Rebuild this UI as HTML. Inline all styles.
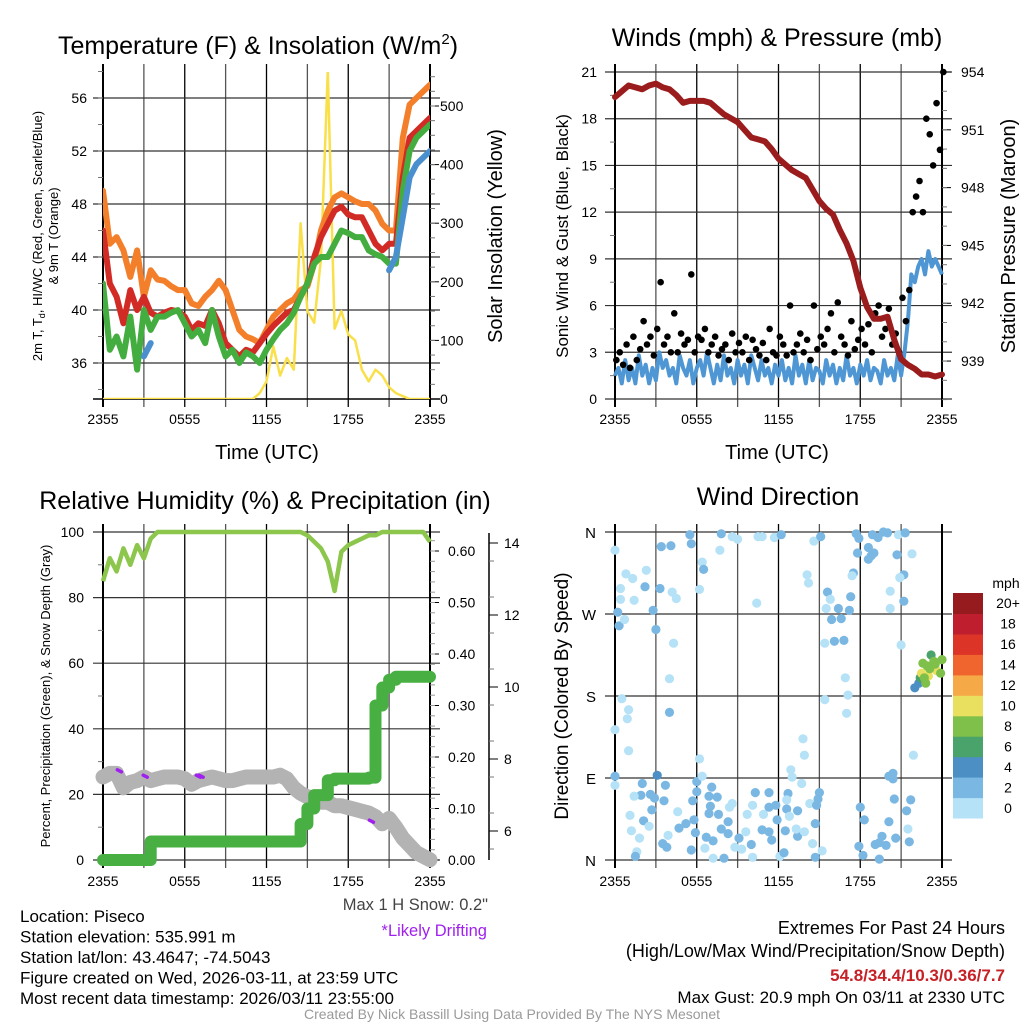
<!DOCTYPE html>
<html><head><meta charset="utf-8"><style>
html,body{margin:0;padding:0;background:#fff;}
svg{display:block;font-family:"Liberation Sans",sans-serif;}
</style></head><body>
<svg id="fig" width="1024" height="1024" viewBox="0 0 1024 1024" xmlns="http://www.w3.org/2000/svg">
<rect width="1024" height="1024" fill="#fff"/>
</svg>
<script>
// ---------- DATA (half-hour steps, 0..24 h from 2355 UTC) ----------
const timeTicks = ["2355","0555","1155","1755","2355"];
const temp9m = [49,45,45.5,44.5,42.5,44.5,41,43,42.3,42.2,41.8,41.5,41.5,40.5,40.3,41,41.5,42.2,41.5,40,38.5,38,37.8,37.5,38.5,39.5,40,40.5,40.8,41.5,41.8,43.5,46,47.5,48.5,48.8,48.5,48.2,48,48,47.5,46.5,46,46,53,55.5,56,56.5,57];
const temp2m = [46,42,41,39,41.5,40,41,39.8,39.5,39.8,40,39.9,39.5,38.5,39,38.8,40,39,37.5,37,36.5,37,36.8,37.5,38.2,38.8,39.3,39.8,40,41,42,44,45.5,46.5,47.5,47.8,47.2,47,47,46,45,44.5,45,45,50,53,53.5,54,54.5];
const dewpt = [42,37,38,36.5,39.5,35.5,40,38.5,39.5,39.5,39.8,40,39,38,38.5,37.5,40,38,36.5,37,36,36.8,36.5,36,37,37.8,38.5,39,39.8,41,42,43.5,44,44,45,46,45.8,45.5,45.5,44.5,44.2,44,43.5,43.5,49,52,53,53.5,54];
const windChill = [null,null,null,null,null,null,36.5,37.5,null,null,null,null,null,null,null,null,null,null,null,null,null,null,null,null,null,null,null,null,null,40,null,null,null,null,null,null,null,null,null,null,null,null,43,44,47,50,51,51.5,52];
const solar = [0,0,0,0,0,0,0,0,0,0,0,0,0,0,0,0,0,0,0,0,0,0,0,10,30,90,40,70,50,300,150,130,240,560,120,150,110,100,50,30,50,40,20,10,5,0,0,0,0];
const tempTicks = [36,40,44,48,52,56];
const solarTicks = [0,100,200,300,400,500];

const windSpeed = [1.5,2,1,2.5,1.2,2,1,2.8,1.5,2.2,1,2,1.2,3,2,2.5,1.5,2,1,2.8,2,1.5,2.5,1,2,2.5,1.5,3,2,1,2.2,1.2,2.8,1.5,2,1,2.5,1.5,2.2,1,2.8,2,1.2,2.5,1.5,2,1,2.2,1.5,2.5,1.2,2,1,2.8,1.5,2.2,1,2.5,1.2,2,1.8,1,2.5,1.5,2.2,1,2,1.2,2.8,1.5,2,1,2.2,1.5,2.5,1.2,2,1.8,1,2.5,1.5,2,1.2,2.8,1.5,3,5,8,7.5,8.5,9,8,9.5,8.5,9,8.5,8];
const windGust = [2.5,3,2.2,3.5,2,4,2.5,3.2,5,3.5,4,2.8,4.5,7.5,3.5,4,3,5.5,3,4.2,3.5,3.8,8,3,4,3.8,4.5,3,3.5,4,2.8,3.2,3.5,2.5,4.2,3,3.6,3,4,2.5,3.8,3.2,2.8,3.6,2.5,4.5,3,2.8,4,3.5,2.8,6,3,3.5,4.2,3,3.8,2.5,6,3.2,4,3.5,4.5,5.5,3,6.2,4,3.5,2.8,5,3.2,3.8,4.5,3.5,4.8,3,5.5,6,4,4.5,5.8,3.5,4.2,3,6.5,5,7,12,13,14,12,18,17,15,19,16,21];
const pressure = [952.7,953.0,953.3,953.2,953.1,953.3,953.4,953.2,953.1,952.8,952.4,952.5,952.5,952.5,952.4,952.1,951.8,951.6,951.4,951.0,950.6,950.5,950.4,950.0,949.5,949.2,948.9,948.7,948.5,947.9,947.3,946.9,946.6,945.8,945.1,944.2,942.8,941.8,941.2,941.2,941.3,940.1,939.1,938.8,938.6,938.3,938.3,938.2,938.3];
const windTicks = [0,3,6,9,12,15,18,21];
const pressTicks = [939,942,945,948,951,954];

const rh = [85,92,88,95,90,96,92,98,100,100,100,100,100,100,100,100,100,100,100,100,100,100,100,100,100,100,100,100,100,100,99,97,95,91,82,94,96,97,98,99,99,100,100,100,100,100,100,100,97];
const precip = [0,0,0,0,0,0,0,0.036,0.036,0.036,0.036,0.036,0.036,0.036,0.036,0.036,0.036,0.036,0.036,0.036,0.036,0.036,0.036,0.036,0.036,0.036,0.036,0.036,0.036,0.07,0.1,0.126,0.126,0.155,0.158,0.158,0.158,0.158,0.158,0.16,0.3,0.335,0.35,0.356,0.356,0.356,0.356,0.356,0.356];
const snowDepth = [7.5,7.6,7.6,7.2,7.35,7.4,7.5,7.4,7.45,7.5,7.5,7.5,7.45,7.3,7.4,7.45,7.5,7.45,7.4,7.4,7.45,7.5,7.5,7.5,7.5,7.5,7.55,7.45,7.2,7.05,6.95,6.9,6.8,6.8,6.7,6.7,6.65,6.6,6.55,6.5,6.4,6.2,6.35,6.1,5.8,5.6,5.4,5.3,5.2];
const driftHours = [1.2,3.1,7.0,7.2,19.7];
const driftDepth = [7.7,7.55,7.55,7.55,6.3];
const rhTicks = [0,20,40,60,80,100];
const precipTicks = [0,0.1,0.2,0.3,0.4,0.5,0.6];
const snowTicks = [6,8,10,12,14];

const dirHours = [5.5,5.6,7.8,8.6,9,10.5,10.8,11.7,12.2,14.6,15.1,17.7,17.9,18.9,19.3,19.7,20,20.8,21.3,3.4,4.1,0,7.7,17.8,18.6,20.7,21.8,6.4,6.5,0.8,2.3,1.3,2.2,3.3,0.4,4.2,4.5,0.4,1.4,6.2,10.4,2.8,0.2,18.6,18.8,19,17.5,17.4,14.1,14.2,15.6,15.8,17.3,20.2,21.2,20.9,21.2,20.2,15.5,16.4,17.2,0.3,0.7,3,15.9,16.6,16.1,16.8,15.4,4.3,21,4,16.9,17.1,15.4,0.5,17,4,1,0.9,0,1,13.8,13.9,21.9,
0,0,3.1,2,1.9,1.4,2.6,2.9,2.7,3.6,3.7,1.1,2.1,2.5,1.2,1.8,1.6,1.5,3.5,3.8,3.9,4.6,4.7,5.2,5.8,5.9,5.6,6,6,5.7,6.4,6.2,6.9,7,7.5,7.1,6.9,7.6,6.7,7.2,6.6,7.2,8,7.8,8.3,8.3,8.6,8.4,9.1,8.8,9.3,9.6,9.7,10,10.3,10.1,10.1,10.8,10.9,11.3,11.3,11.3,11.5,11.8,11.9,12.1,12.4,12.6,12.7,12.6,12.5,12.8,12.9,13,13.4,13.4,13.3,13.9,13.7,14.3,14.5,14.7,15.2,14.7,14.8,15,14.9,18,18.3,17.9,18.2,19.1,19.4,19.4,19.6,19.9,20.1,20.4,20.4,20.5,20.1,20.6,21.4,21.7,21.5,21.6,
22,22.3,22.4,22.5,22.6,22.9,23,23.2,23.4,23.6,23.9,24,22.8,23.5,23.1,22.7];
const dirDegrees = [357,347,358,355,352,355,355,354,357,350,355,358,353,357,354,360,359,357,359,344,345,340,340,337,343,335,336,327,319,314,318,309,300,298,298,294,287,286,285,297,282,274,272,330,334,337,315,312,313,304,294,286,289,295,313,310,284,276,276,276,274,257,264,253,264,265,240,241,238,238,236,199,200,181,176,177,161,162,165,155,143,120,133,115,115,
92,82,93,84,71,70,72,68,55,65,82,49,43,37,32,24,9,4,18,14,27,53,35,40,44,30,11,86,75,65,92,111,70,59,69,80,51,50,25,21,13,2,2,34,29,42,62,58,24,14,12,31,50,17,74,60,3,33,50,74,58,31,22,60,44,4,8,56,73,66,32,48,99,91,54,26,34,31,84,62,18,3,10,40,60,74,67,58,44,15,5,17,1,19,26,16,92,89,95,67,42,24,54,66,34,20,
189,194,200,205,216,213,202,225,218,208,205,220,194,215,210,200];
const dirSpeeds = [3,3,3,1,1,1,1,1,3,1,3,3,3,3,3,3,3,1,3,3,3,1,1,3,3,3,1,1,3,1,1,1,3,3,1,1,1,1,1,1,1,3,3,3,3,3,3,1,1,1,3,1,3,1,3,1,3,1,1,3,3,3,1,3,3,3,3,3,1,1,1,1,1,1,1,1,1,3,1,1,1,1,1,1,1,
3,1,5,3,3,1,3,3,3,3,3,1,3,1,1,1,1,3,3,3,1,1,3,3,3,3,3,3,3,3,1,1,3,3,3,3,3,3,3,3,1,1,3,3,3,3,1,1,3,1,1,1,1,3,3,1,1,3,1,3,3,3,3,3,3,1,3,3,3,1,3,1,1,1,3,3,1,1,1,1,1,3,1,3,3,3,3,3,3,3,3,3,3,3,3,3,3,3,3,3,3,3,3,3,1,3,
4,5,7,10,8,8,10,6,8,10,8,8,8,8,9,9];
const dirLabels = ["N","E","S","W","N"];
const speedBinLabels = ["0","2","4","6","8","10","12","14","16","18","20+"];
const speedBinColors = ["#b5e2f7","#7ab8e3","#4b8fc4","#4aa36b","#7fc04a","#e8e05e","#f6a947","#f0642d","#dc3528","#be1e2d","#951b1e"];

// ---------- HELPERS ----------
const NS = "http://www.w3.org/2000/svg";
const svg = document.getElementById("fig");
function mk(tag, attrs, parent){
  const e = document.createElementNS(NS, tag);
  for (const k in attrs) e.setAttribute(k, attrs[k]);
  (parent || svg).appendChild(e);
  return e;
}
function txt(s, x, y, size, anchor, parent, extra){
  const t = mk("text", Object.assign({x:x, y:y, "font-size":size, "text-anchor":anchor||"middle", fill:"#000"}, extra||{}), parent);
  t.textContent = s;
  return t;
}
function group(name){
  const g = mk("g", {});
  
  
  return g;
}
function linePath(vals, xf, yf){
  let d = "", pen = false;
  vals.forEach((v,i)=>{
    if (v === null) { pen = false; return; }
    d += (pen ? "L" : "M") + xf(i*0.5).toFixed(1) + " " + yf(v).toFixed(1);
    pen = true;
  });
  return d;
}
function frame(g, x0, x1, y0, y1, hLines, xTickY){
  for (let k=1;k<8;k++){
    const x = x0 + (x1-x0)*k/8;
    mk("line",{x1:x,x2:x,y1:y0-8,y2:y1+8,stroke:k%2?"#555":"#000","stroke-width":1.3},g);
  }
  hLines.forEach(y=>mk("line",{x1:x0-10,x2:x1+10,y1:y,y2:y,stroke:"#333","stroke-width":1.2},g));
  mk("line",{x1:x0,x2:x0,y1:y0-8,y2:y1+8,stroke:"#000","stroke-width":2},g);
  mk("line",{x1:x1,x2:x1,y1:y0-8,y2:y1+8,stroke:"#000","stroke-width":2},g);
  timeTicks.forEach((s,i)=>{
    const t = txt(s, x0 + (x1-x0)*i/4, xTickY, 14, "middle", g);
    
    
  });
}

// ================= PANEL 1: Temperature =================
(function(){
  const x0=103,x1=430,y0=72,y1=399;
  const X = h => x0 + h*(x1-x0)/24;
  const YT = t => 98 + (56-t)*13.25;
  const YS = s => 399 - s*0.586;
  const g = group("temperature-panel");
  const tl = txt("Temperature (F) & Insolation (W/m", 258, 54, 25, "middle", g);
  const sup = mk("tspan",{"font-size":15,dy:-10},tl); sup.textContent="2";
  const cl = mk("tspan",{dy:10},tl); cl.textContent=")";
  
  
  frame(g,x0,x1,y0,y1,tempTicks.map(YT),424);
  mk("line",{x1:x0-10,x2:x1+10,y1:y1,y2:y1,stroke:"#000","stroke-width":1.5},g);
  for (let t=34;t<=58;t+=2) mk("line",{x1:x0-5,x2:x0,y1:YT(t),y2:YT(t),stroke:"#777"},g);
  tempTicks.forEach(t=>txt(String(t), 87, YT(t)+5, 14, "end", g));
  solarTicks.forEach(s=>{ mk("line",{x1:x1,x2:x1+9,y1:YS(s),y2:YS(s),stroke:"#000"},g); txt(String(s), 440, YS(s)+5, 14, "start", g); });
  for (let s=25;s<560;s+=25) mk("line",{x1:x1,x2:x1+5,y1:YS(s),y2:YS(s),stroke:"#777"},g);
  const clip = mk("clipPath",{id:"c1"},g); mk("rect",{x:x0,y:y0,width:x1-x0,height:y1-y0},clip);
  const series = [[solar,YS,"#f9e04b",2.5,"solar-insolation-line"],[temp9m,YT,"#f47f2b",6,"temp-9m-line"],[temp2m,YT,"#d22b26",6,"temp-2m-line"],[dewpt,YT,"#44ad3f",6,"dewpoint-line"],[windChill,YT,"#4a90cf",6,"wind-chill-line"]];
  series.forEach(s=>{
    const p = mk("path",{d:linePath(s[0],X,s[1]),fill:"none",stroke:s[2],"stroke-width":s[3],"stroke-linejoin":"round","stroke-linecap":"round","clip-path":"url(#c1)"},g);
    
    
  });
  const xt = txt("Time (UTC)", 267, 459, 20, "middle", g);
  
  
  const yt = mk("text",{transform:"translate(42,236) rotate(-90)","font-size":13,"text-anchor":"middle"},g);
  yt.textContent = "2m T, T";
  const sb = mk("tspan",{"font-size":9,dy:3},yt); sb.textContent="d";
  const rest = mk("tspan",{dy:-3},yt); rest.textContent=", HI/WC (Red, Green, Scarlet/Blue)";
  
  
  const yt2 = txt("& 9m T (Orange)", 0, 0, 13, "middle", g, {transform:"translate(58,236) rotate(-90)"});
  
  
  const yr = txt("Solar Insolation (Yellow)", 0, 0, 20, "middle", g, {transform:"translate(502,236) rotate(-90)"});
  
  
})();

// ================= PANEL 2: Winds =================
(function(){
  const x0=615,x1=942,y0=72,y1=399;
  const X = h => x0 + h*(x1-x0)/24;
  const YW = w => 399 - w*(327/21);
  const YP = p => 72 + (954-p)*19.27;
  const g = group("winds-panel");
  const tl = txt("Winds (mph) & Pressure (mb)", 777, 46, 25, "middle", g);
  
  
  frame(g,x0,x1,y0,y1,windTicks.map(YW),424);
  for (let w=1.5;w<21;w+=3) mk("line",{x1:x0-5,x2:x0,y1:YW(w),y2:YW(w),stroke:"#777"},g);
  windTicks.forEach(w=>txt(String(w), 597, YW(w)+5, 14, "end", g));
  pressTicks.forEach(p=>{ mk("line",{x1:x1,x2:x1+9,y1:YP(p),y2:YP(p),stroke:"#000"},g); txt(String(p), 961, YP(p)+5, 14, "start", g); });
  for (let p=937;p<954;p+=1) mk("line",{x1:x1,x2:x1+5,y1:YP(p),y2:YP(p),stroke:"#777"},g);
  const wp = mk("path",{d:"",fill:"none",stroke:"#4f97d4","stroke-width":4,"stroke-linejoin":"round"},g);
  let d=""; windSpeed.forEach((v,i)=>{ d += (i?"L":"M")+X(i*0.25).toFixed(1)+" "+YW(v).toFixed(1); }); wp.setAttribute("d",d);
  
  
  windGust.forEach((v,i)=>{
    const c = mk("circle",{cx:X(i*0.25+0.1),cy:YW(v),r:3.3,fill:"#000"},g);
    
    
  });
  const pp = mk("path",{d:linePath(pressure,X,YP),fill:"none",stroke:"#9b1c1c","stroke-width":6,"stroke-linejoin":"round","stroke-linecap":"round"},g);
  
  
  const xt = txt("Time (UTC)", 777, 459, 20, "middle", g);
  
  
  const yl = txt("Sonic Wind & Gust (Blue, Black)", 0, 0, 17, "middle", g, {transform:"translate(568,236) rotate(-90)"});
  
  
  const yr = txt("Station Pressure (Maroon)", 0, 0, 20, "middle", g, {transform:"translate(1015,236) rotate(-90)"});
  
  
})();

// ================= PANEL 3: RH & Precip =================
(function(){
  const x0=103,x1=430,y0=532,y1=860;
  const X = h => x0 + h*(x1-x0)/24;
  const YR = r => 860 - r*3.28;
  const YPc = p => 860 - p*515;
  const YSn = s => 831 - (s-6)*36;
  const g = group("humidity-panel");
  const tl = txt("Relative Humidity (%) & Precipitation (in)", 265, 509, 25, "middle", g);
  
  
  frame(g,x0,x1,y0,y1,rhTicks.map(YR),886);
  for (let r=10;r<100;r+=20) mk("line",{x1:x0-5,x2:x0,y1:YR(r),y2:YR(r),stroke:"#777"},g);
  rhTicks.forEach(r=>txt(String(r), 84, YR(r)+5, 14, "end", g));
  precipTicks.forEach(p=>{ mk("line",{x1:x1,x2:x1+9,y1:YPc(p),y2:YPc(p),stroke:"#000"},g); txt(p.toFixed(2), 448, YPc(p)+5, 14, "start", g); });
  for (let p=0.02;p<0.63;p+=0.02) mk("line",{x1:x1,x2:x1+5,y1:YPc(p),y2:YPc(p),stroke:"#999"},g);
  mk("line",{x1:489,x2:489,y1:533,y2:860,stroke:"#000","stroke-width":1.5},g);
  snowTicks.forEach(s=>{ mk("line",{x1:489,x2:498,y1:YSn(s),y2:YSn(s),stroke:"#000"},g); txt(String(s), 504, YSn(s)+5, 14, "start", g); });
  for (let s=5.5;s<14.5;s+=1) mk("line",{x1:489,x2:494,y1:YSn(s),y2:YSn(s),stroke:"#777"},g);
  const sn = mk("path",{d:linePath(snowDepth,X,YSn),fill:"none",stroke:"#b3b3b3","stroke-width":15,"stroke-linejoin":"round","stroke-linecap":"round"},g);
  
  
  driftHours.forEach((h,i)=>{
    const m = mk("line",{x1:X(h)-2,x2:X(h)+2,y1:YSn(driftDepth[i]),y2:YSn(driftDepth[i])+2,stroke:"#a020f0","stroke-width":3.5,"stroke-linecap":"round"},g);
    
    
  });
  let d=""; precip.forEach((p,i)=>{ const yy=YPc(p); if(i===0) d+="M"+X(0)+" "+yy; else d+="H"+X(i*0.5).toFixed(1)+"V"+yy.toFixed(1); });
  const pc = mk("path",{d:d,fill:"none",stroke:"#48b043","stroke-width":12,"stroke-linejoin":"round","stroke-linecap":"round"},g);
  
  
  const rl = mk("path",{d:linePath(rh,X,YR),fill:"none",stroke:"#8dc64c","stroke-width":4.5,"stroke-linejoin":"round"},g);
  
  
  const yl = txt("Percent, Precipitation (Green), & Snow Depth (Gray)", 0, 0, 13, "middle", g, {transform:"translate(50,696) rotate(-90)"});
  
  
  const ms = txt('Max 1 H Snow: 0.2"', 488, 910, 16.5, "end", g, {fill:"#444"});
  
  
  const ld = txt("*Likely Drifting", 487, 936, 16.5, "end", g, {fill:"#a020f0"});
  
  
})();

// ================= PANEL 4: Wind Direction =================
(function(){
  const x0=615,x1=942,y0=532,y1=860;
  const X = h => x0 + h*(x1-x0)/24;
  const YD = deg => 860 - deg*(328/360);
  const g = group("wind-direction-panel");
  const tl = txt("Wind Direction", 778, 505, 25, "middle", g);
  
  
  frame(g,x0,x1,y0,y1,[0,90,180,270,360].map(YD),886);
  dirLabels.forEach((s,i)=>txt(s, 596, YD(i*90)+6, 15, "end", g));
  const bin = s => Math.min(10, Math.floor(s/2));
  dirHours.forEach((h,i)=>{
    const c = mk("circle",{cx:X(h).toFixed(1),cy:YD(dirDegrees[i]).toFixed(1),r:4.6,fill:speedBinColors[bin(dirSpeeds[i])]},g);
    
    
  });
  const yl = txt("Direction (Colored By Speed)", 0, 0, 19, "middle", g, {transform:"translate(568,696) rotate(-90)"});
  
  
  const lg = group("speed-colorbar");
  const un = txt("mph", 1006, 588, 14, "middle", lg);
  
  
  const cellH = 225/11;
  speedBinColors.forEach((c,i)=>{
    const yy = 818 - (i+1)*cellH;
    const r = mk("rect",{x:953,y:yy.toFixed(1),width:30,height:(cellH+0.5).toFixed(1),fill:c},lg);
    
    
    txt(speedBinLabels[i], 1008, yy+cellH/2+5, 14, "middle", lg);
  });
})();

// ================= FOOTER TEXT =================
(function(){
  const g = group("station-info");
  ["Location: Piseco","Station elevation: 535.991 m","Station lat/lon: 43.4647; -74.5043","Figure created on Wed, 2026-03-11, at 23:59 UTC","Most recent data timestamp: 2026/03/11 23:55:00"].forEach((s,i)=>{
    const t = txt(s, 20, 922 + i*20.5, 17, "start", g);
    
    
  });
  const r = group("extremes-summary");
  const a = txt("Extremes For Past 24 Hours", 1005, 934, 18, "end", r);
  
  
  const b = txt("(High/Low/Max Wind/Precipitation/Snow Depth)", 1005, 957, 18, "end", r);
  
  
  const c = txt("54.8/34.4/10.3/0.36/7.7", 1005, 981, 17, "end", r, {fill:"#c62127","font-weight":"bold"});
  
  
  const d = txt("Max Gust: 20.9 mph On 03/11 at 2330 UTC", 1005, 1003, 17, "end", r);
  
  
  const e = txt("Created By Nick Bassill Using Data Provided By The NYS Mesonet", 512, 1019, 14, "middle", svg, {fill:"#9a9a9a"});
  
  
})();
</script>
</body></html>
